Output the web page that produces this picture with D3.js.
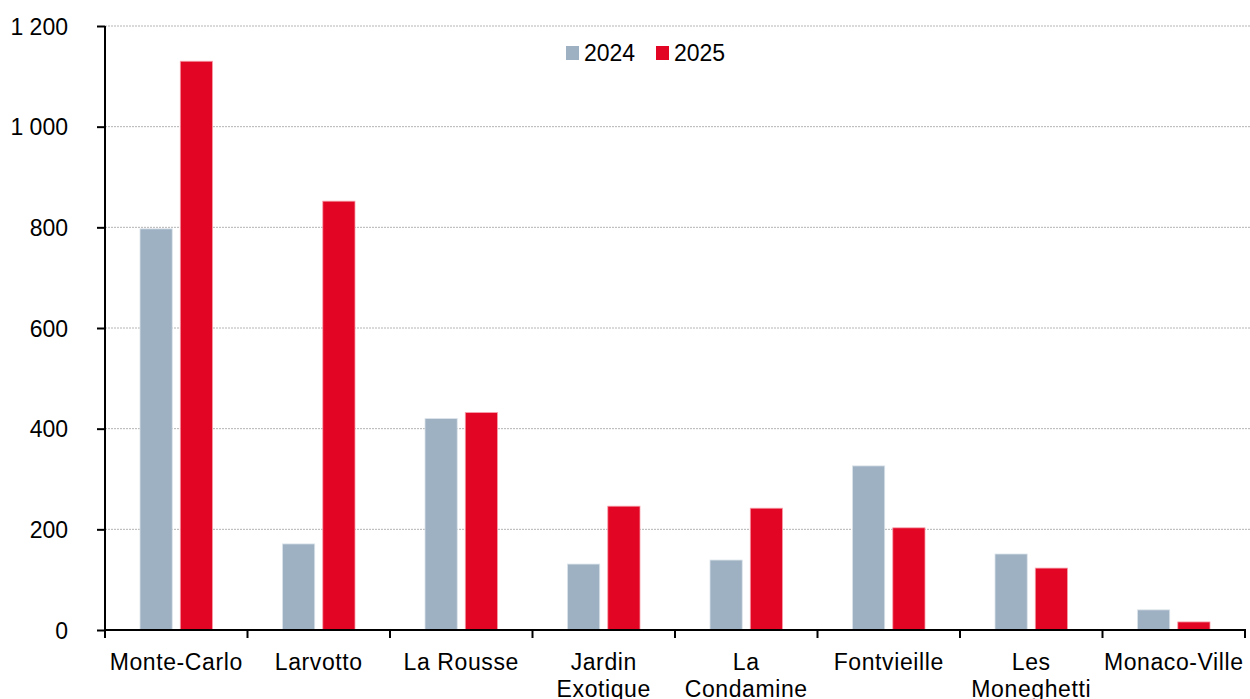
<!DOCTYPE html>
<html>
<head>
<meta charset="utf-8">
<script src="https://cdn.jsdelivr.net/npm/d3@7"></script>
<style>
    body { margin: 0; background: #fff; }
    svg { display: block; font-family: "Liberation Sans", Arial, Helvetica, sans-serif; }
</style>
</head>
<body>
<svg id="chart" width="1250" height="699"></svg>
<script>
// data
const categories = ["Monte-Carlo", "Larvotto", "La Rousse", "Jardin\nExotique", "La\nCondamine", "Fontvieille", "Les\nMoneghetti", "Monaco-Ville"]
const series = ["2024", "2025"]
const values2024 = [797, 171, 420, 131, 139, 326, 151, 40]
const values2025 = [1130, 852, 432, 246, 242, 203, 123, 16]
const yTicks = [0, 200, 400, 600, 800, 1000, 1200]
const colors = ["#9EB1C2", "#E30524"]

let svg = d3.select("#chart")

let x = d3.scaleBand().domain(categories).range([105, 1245]).padding(0)
let xInner = d3.scaleBand().domain(series).range([35, x.bandwidth() - 35]).paddingInner(0.2)
let y = d3.scaleLinear().domain([0, 1200]).range([630, 26])

let fmt = (d) => d3.format(",")(d).replace(",", " ")

// gridlines
svg.append("g")
    .selectAll("line")
    .data(yTicks.filter((d) => d > 0))
    .enter()
    .append("line")
    .attr("x1", 105)
    .attr("x2", 1250)
    .attr("y1", (d) => y(d))
    .attr("y2", (d) => y(d))
    .attr("stroke", "#b4b4b4")
    .attr("stroke-width", 1)
    .attr("stroke-dasharray", "2,1")

// bars
let rows = categories.map((c, i) => ({ cat: c, vals: [values2024[i], values2025[i]] }))
let groups = svg.append("g")
    .selectAll("g")
    .data(rows)
    .enter()
    .append("g")
    .attr("transform", (d) => "translate(" + x(d.cat) + ",0)")

groups.selectAll("rect")
    .data((d) => d.vals.map((v, j) => ({ s: series[j], v: v, j: j })))
    .enter()
    .append("rect")
    .attr("x", (d) => xInner(d.s))
    .attr("width", xInner.bandwidth())
    .attr("y", (d) => y(d.v))
    .attr("height", (d) => y(0) - y(d.v))
    .attr("fill", (d) => colors[d.j])
    .attr("stroke", (d) => (d.j == 0 ? "#dbe3ea" : "#f5a0ab"))
    .attr("stroke-width", 0.8)

// y axis
let yAxis = svg.append("g")
    .attr("transform", "translate(105,0)")
    .call(d3.axisLeft(y).tickValues(yTicks).tickSize(8).tickFormat(fmt))
yAxis.select(".domain").attr("stroke", "#000").attr("stroke-width", 2).attr("d", "M0," + y(1200) + "V" + y(0))
yAxis.selectAll(".tick line").attr("stroke", "#000").attr("stroke-width", 2)
yAxis.selectAll(".tick text")
    .attr("x", -37)
    .attr("dy", "0.36em")
    .attr("font-size", 23)
    .attr("fill", "#000")
    .attr("font-family", "Liberation Sans, Arial, sans-serif")

// x axis
let xAxisG = svg.append("g").attr("transform", "translate(0," + y(0) + ")")
xAxisG.append("line")
    .attr("x1", 104)
    .attr("x2", 1246)
    .attr("stroke", "#000")
    .attr("stroke-width", 2)
let edges = categories.map((c) => x(c)).concat([x(categories[categories.length - 1]) + x.bandwidth()])
xAxisG.selectAll("line.tick")
    .data(edges)
    .enter()
    .append("line")
    .attr("class", "tick")
    .attr("x1", (d) => d)
    .attr("x2", (d) => d)
    .attr("y1", 0)
    .attr("y2", 8)
    .attr("stroke", "#000")
    .attr("stroke-width", 2)

let labels = svg.append("g")
    .selectAll("text")
    .data(categories)
    .enter()
    .append("text")
    .attr("x", (d) => x(d) + x.bandwidth() / 2)
    .attr("y", 670)
    .attr("text-anchor", "middle")
    .attr("font-size", 23)
    .attr("letter-spacing", "0.6px")
    .attr("fill", "#000")
labels.each(function (d) {
    let t = d3.select(this)
    d.split("\n").forEach((line, i) => {
        t.append("tspan")
            .attr("x", x(d) + x.bandwidth() / 2)
            .attr("dy", i == 0 ? 0 : 26.5)
            .text(line)
    })
})

// legend
let legend = svg.append("g")
    .selectAll("g")
    .data(series)
    .enter()
    .append("g")
    .attr("transform", (d, i) => "translate(" + (566 + i * 90) + ",46)")
legend.append("rect")
    .attr("width", 13)
    .attr("height", 14)
    .attr("fill", (d, i) => colors[i])
legend.append("text")
    .attr("x", 18)
    .attr("y", 15)
    .attr("font-size", 23)
    .attr("fill", "#000")
    .text((d) => d)
</script>
</body>
</html>
